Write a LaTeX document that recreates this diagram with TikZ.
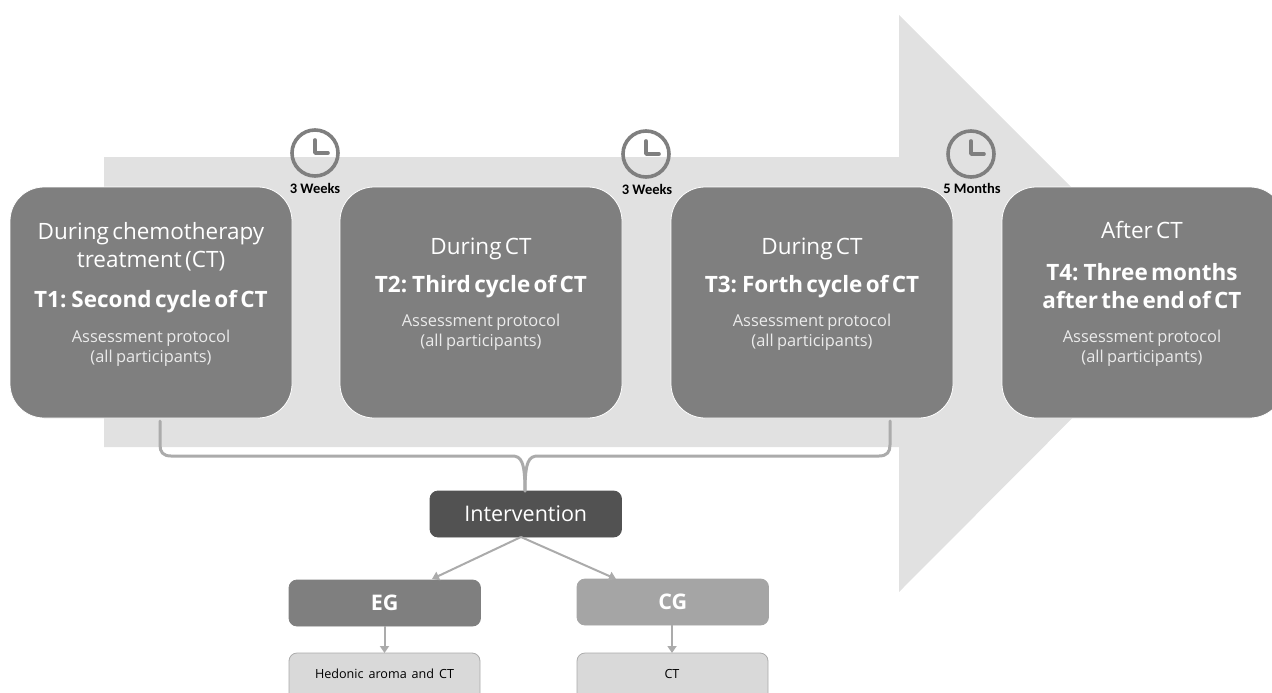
\documentclass[tikz,border=0pt]{standalone}
\usepackage{fontspec}
\setmainfont[WordSpace=1.5]{Open Sans}
\newfontfamily\lblfont{Carlito}
\usetikzlibrary{arrows.meta}
\definecolor{band}{HTML}{E1E1E1}
\definecolor{stage}{HTML}{7F7F7F}
\definecolor{dark}{HTML}{525252}
\definecolor{cg}{HTML}{A5A5A5}
\definecolor{pale}{HTML}{D9D9D9}
\definecolor{lin}{HTML}{ABABAB}
\tikzset{
  every node/.append style={outer sep=0pt},
  stagebox/.style={draw=white,line width=0.8pt,fill=stage,rounded corners=34pt,minimum width=282pt,minimum height=231pt,inner sep=0pt,anchor=north west},
  small/.style={draw=#1,line width=0.8pt,fill=#1,rounded corners=8pt,minimum width=191.5pt,minimum height=46pt,inner sep=0pt,anchor=north west,text=white},
  leaf/.style={draw=lin,line width=0.8pt,fill=pale,rounded corners=8pt,minimum width=191pt,minimum height=60pt,inner sep=0pt,anchor=north west},
  txt/.style={text=#1,align=center,inner sep=0pt},
  conn/.style={draw=lin,line width=2pt,-{Triangle[length=7pt,width=9pt]}},
  brace/.style={draw=lin,line width=3pt,line cap=round},
  clockface/.style={draw=stage,line width=3.6pt,circle,minimum size=46pt,inner sep=0pt},
  clockhand/.style={draw=stage,line width=3.6pt,line cap=round,line join=round},
  wait/.style={inner sep=0pt,font=\lblfont\bfseries\fontsize{14.5}{16}\selectfont}
}
\newcommand{\lgt}[1]{{\fontsize{22.5}{28}\selectfont #1\par}}
\newcommand{\lgb}[1]{{\fontsize{22.5}{28}\selectfont\bfseries #1\par}}
\newcommand{\sm}[1]{{\fontsize{16.4}{20.5}\selectfont\color{white!92!black} #1\par}}
\begin{document}
\begin{tikzpicture}[x=1pt,y=-1pt]
\useasboundingbox (0,0) rectangle (1272,693);
\clip (0,0) rectangle (1272,693);
\fill[band] (104,157) -- (899,157) -- (899,15) -- (1187,303) -- (899,592) -- (899,447) -- (104,447) -- cycle;
% stages
\node[stagebox] (t1) at (10,187) {};
\node[stagebox] (t2) at (340,187) {};
\node[stagebox] (t3) at (671,187) {};
\node[stagebox] (t4) at (1002,187) {};
\node[txt=white,text width=275pt] (t1a) at (151,247) {\lgt{During chemotherapy}\lgt{treatment (CT)}};
\node[txt=white,text width=275pt] (t1b) at (151,301.5) {\lgb{T1: Second cycle of CT}};
\node[txt=white,text width=275pt] (t1c) at (151,348) {\sm{Assessment protocol}\sm{(all participants)}};
\node[txt=white,text width=275pt] (t2a) at (481,249) {\lgt{During CT}};
\node[txt=white,text width=275pt] (t2b) at (481,287) {\lgb{T2: Third cycle of CT}};
\node[txt=white,text width=275pt] (t2c) at (481,332) {\sm{Assessment protocol}\sm{(all participants)}};
\node[txt=white,text width=275pt] (t3a) at (812,249) {\lgt{During CT}};
\node[txt=white,text width=275pt] (t3b) at (812,287) {\lgb{T3: Forth cycle of CT}};
\node[txt=white,text width=275pt] (t3c) at (812,332) {\sm{Assessment protocol}\sm{(all participants)}};
\node[txt=white,text width=275pt] (t4a) at (1142,230) {\lgt{After CT}};
\node[txt=white,text width=275pt] (t4b) at (1142,286) {\lgb{T4: Three months}\lgb{after the end of CT}};
\node[txt=white,text width=275pt] (t4c) at (1142,348) {\sm{Assessment protocol}\sm{(all participants)}};
% clocks
\node[clockface] (c1) at (315,153) {};
\node[clockface] (c2) at (646,154) {};
\node[clockface] (c3) at (971,154) {};
\draw[clockhand] (315,140) -- (315,153) -- (328,153);
\draw[clockhand] (646,141) -- (646,154) -- (659,154);
\draw[clockhand] (971,141) -- (971,154) -- (984,154);
\node[wait] (w1) at (315,188) {3 Weeks};
\node[wait] (w2) at (647,189) {3 Weeks};
\node[wait] (w3) at (972,188) {5 Months};
% lower boxes
\node[small=dark] (iv) at (430,491) {\fontsize{21.5}{24}\selectfont Intervention};
\node[small=stage] (eg) at (289,580) {\fontsize{21.5}{24}\selectfont\bfseries EG};
\node[small=cg] (cgb) at (577,579) {\fontsize{21.5}{24}\selectfont\bfseries CG};
\node[leaf] (he) at (289,653) {};
\node[leaf] (ct) at (577,653) {};
\node[inner sep=0pt,font=\fontsize{12.6}{15}\selectfont] (helab) at (384.5,674) {Hedonic aroma and CT};
\node[inner sep=0pt,font=\fontsize{12.6}{15}\selectfont] (ctlab) at (672,674) {CT};
% brace
\coordinate (bl) at (160,421);
\coordinate (br) at (890,421);
\coordinate (bm) at (525,491);
\draw[brace] (bl) -- (160,445) .. controls (160,452) and (163,456) .. (171,456) -- (512,456) .. controls (521,456) and (525,461) .. (bm |- iv.north);
\draw[brace] (br) -- (890,445) .. controls (890,452) and (887,456) .. (879,456) -- (538,456) .. controls (529,456) and (525,461) .. (bm |- iv.north);
% arrows
\coordinate (fork) at (521,537);
\coordinate (ega) at (432,579);
\coordinate (cga) at (616,579);
\draw[conn] (fork) -- (ega);
\draw[conn] (fork) -- (cga);
\draw[conn] (eg.south -| helab) -- (he.north -| helab);
\draw[conn] (cgb.south -| ctlab) -- (ct.north -| ctlab);
\end{tikzpicture}
\end{document}
